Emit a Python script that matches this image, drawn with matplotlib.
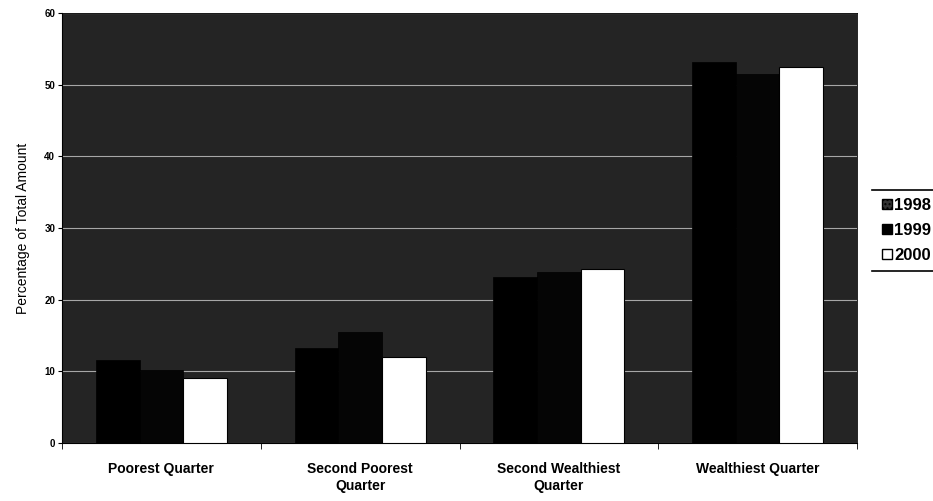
import numpy as np
import matplotlib.pyplot as plt
from matplotlib.lines import Line2D
from matplotlib.patches import Patch

categories = ["Poorest Quarter", "Second Poorest\nQuarter",
              "Second Wealthiest\nQuarter", "Wealthiest Quarter"]
years = ["1998", "1999", "2000"]
values_1998 = [11.6, 13.3, 23.1, 53.1]
values_1999 = [10.2, 15.5, 23.9, 51.5]
values_2000 = [9.1, 12.0, 24.3, 52.4]

plt.rcParams["font.family"] = ["Liberation Sans", "DejaVu Sans"]

fig = plt.figure(figsize=(9.33, 5.01), dpi=100)
ax = fig.add_axes([0.0665, 0.116, 0.852, 0.858])
ax.set_facecolor("#242424")

x = np.arange(len(categories))
w = 0.22
ax.bar(x - w, values_1998, w, color="black", edgecolor="black", linewidth=0.5, zorder=3)
ax.bar(x, values_1999, w, color="#050505", edgecolor="black", linewidth=0.5, zorder=3)
ax.bar(x + w, values_2000, w, color="white", edgecolor="black", linewidth=0.8, zorder=3)

ax.set_xlim(-0.5, 3.5)
ax.set_ylim(0, 60)
ax.set_yticks(range(0, 61, 10))
ax.yaxis.grid(True, color="white", linewidth=0.8, alpha=0.6, zorder=1)
ax.set_xticks(x)
ax.set_xticklabels(categories, fontsize=10, fontweight="bold")
ax.set_xticks(np.arange(-0.5, 4.0, 1.0), minor=True)
ax.tick_params(axis="x", which="major", length=0, pad=14)
ax.tick_params(axis="x", which="minor", length=4, direction="out")
ax.tick_params(axis="y", labelsize=7, length=3, pad=2)
for lbl in ax.get_yticklabels():
    lbl.set_fontweight("bold")
ax.set_ylabel("Percentage of Total Amount", fontsize=10, labelpad=10)
for s in ["top", "right"]:
    ax.spines[s].set_linewidth(0.6)

handles = [Patch(facecolor="#333333", edgecolor="black", hatch="...."),
           Patch(facecolor="black", edgecolor="black"),
           Patch(facecolor="white", edgecolor="black")]
fig.legend(handles, years, loc="center left", bbox_to_anchor=(0.938, 0.54),
           frameon=False, prop={"size": 12, "weight": "bold"}, handlelength=0.6,
           handleheight=0.6, handletextpad=0.15, labelspacing=0.6, borderaxespad=0)
fig.add_artist(Line2D([0.935, 1.0], [0.62, 0.62], color="black", linewidth=1.2))
fig.add_artist(Line2D([0.935, 1.0], [0.46, 0.46], color="black", linewidth=1.2))

fig.savefig("out.png", dpi=100)
